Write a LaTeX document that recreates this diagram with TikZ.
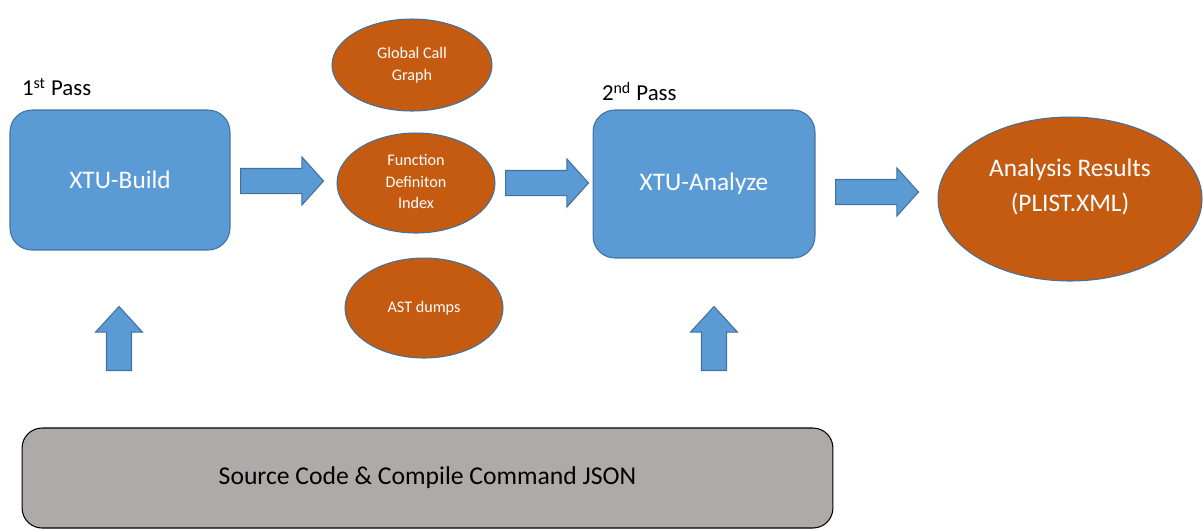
\documentclass[tikz,border=0pt]{standalone}
\usepackage{fontspec}
\setmainfont{Carlito}
\usepackage{tikz}
\usetikzlibrary{shapes.geometric,shapes.arrows}
\usetikzlibrary{positioning}
\definecolor{boxblue}{HTML}{5B9BD5}
\definecolor{edgeblue}{HTML}{41719C}
\definecolor{rust}{HTML}{C55A11}
\definecolor{srcgray}{HTML}{AEAAAA}

\begin{document}
\begin{tikzpicture}[x=0.02cm, y=-0.02cm, line width=0.6pt]
    \tikzstyle{pass}=[rectangle, rounded corners=0.44cm, fill=boxblue, draw=edgeblue, text=white, font=\fontsize{14.4}{17}\selectfont]
    \tikzstyle{store}=[ellipse, fill=rust, draw=edgeblue, text=white, inner sep=0pt, minimum width=3.16cm, minimum height=2cm, font=\fontsize{9.2}{12.3}\selectfont]
    \tikzstyle{flow}=[single arrow, anchor=tail, fill=boxblue, draw=edgeblue, inner sep=0.24cm, minimum height=1.66cm, single arrow head extend=0.23cm, single arrow tip angle=96]
    \tikzstyle{feed}=[flow, shape border rotate=90, minimum height=1.28cm, single arrow head extend=0.22cm, single arrow tip angle=85]
    \tikzstyle{heading}=[inner sep=0pt, font=\fontsize{13}{15}\selectfont]

    \useasboundingbox (0,0) rectangle (1203,529);

    \node[pass, minimum width=4.4cm, minimum height=2.8cm] (build) at (120,180) {XTU-Build};
    \node[pass, minimum width=4.44cm, minimum height=2.96cm] (analyze) at (704,184) {XTU-Analyze};
    \node[heading] (first) [above right=0.26cm and 0.24cm of build.north west] {1\textsuperscript{st} Pass};
    \node[heading] (second) [above right=0.16cm and 0.18cm of analyze.north west] {2\textsuperscript{nd} Pass};

    \node[store, minimum width=3.2cm, minimum height=1.84cm] (callgraph) at (412,65) {\begin{tabular}{c}Global Call\\Graph\end{tabular}};
    \node[store] (fdindex) at (416,183) {\begin{tabular}{c}Function\\Definiton\\Index\end{tabular}};
    \node[store] (astdumps) at (424,308) {AST dumps};
    \node[store, minimum width=5.28cm, minimum height=3.28cm,
          label={[text=white, font=\fontsize{14.4}{20}\selectfont, yshift=0.24cm]center:{\begin{tabular}{c}Analysis Results\\(PLIST.XML)\end{tabular}}}] (results) at (1070,199) {};

    \node[rectangle, rounded corners=0.4cm, fill=srcgray, draw=black, minimum width=16.22cm, minimum height=2cm, font=\fontsize{14.6}{17}\selectfont] (source) at (427.5,478) {Source Code \& Compile Command JSON};

    % block arrows, placed by their tails
    \node[flow] (toindex) at (240,181) {};
    \node[flow] (toanalyze) at (505,183) {};
    \node[flow] (toresults) at (835,192) {};
    \node[feed] (feedbuild) at (119,371) {};
    \node[feed] (feedanalyze) at (714,371) {};
\end{tikzpicture}
\end{document}
